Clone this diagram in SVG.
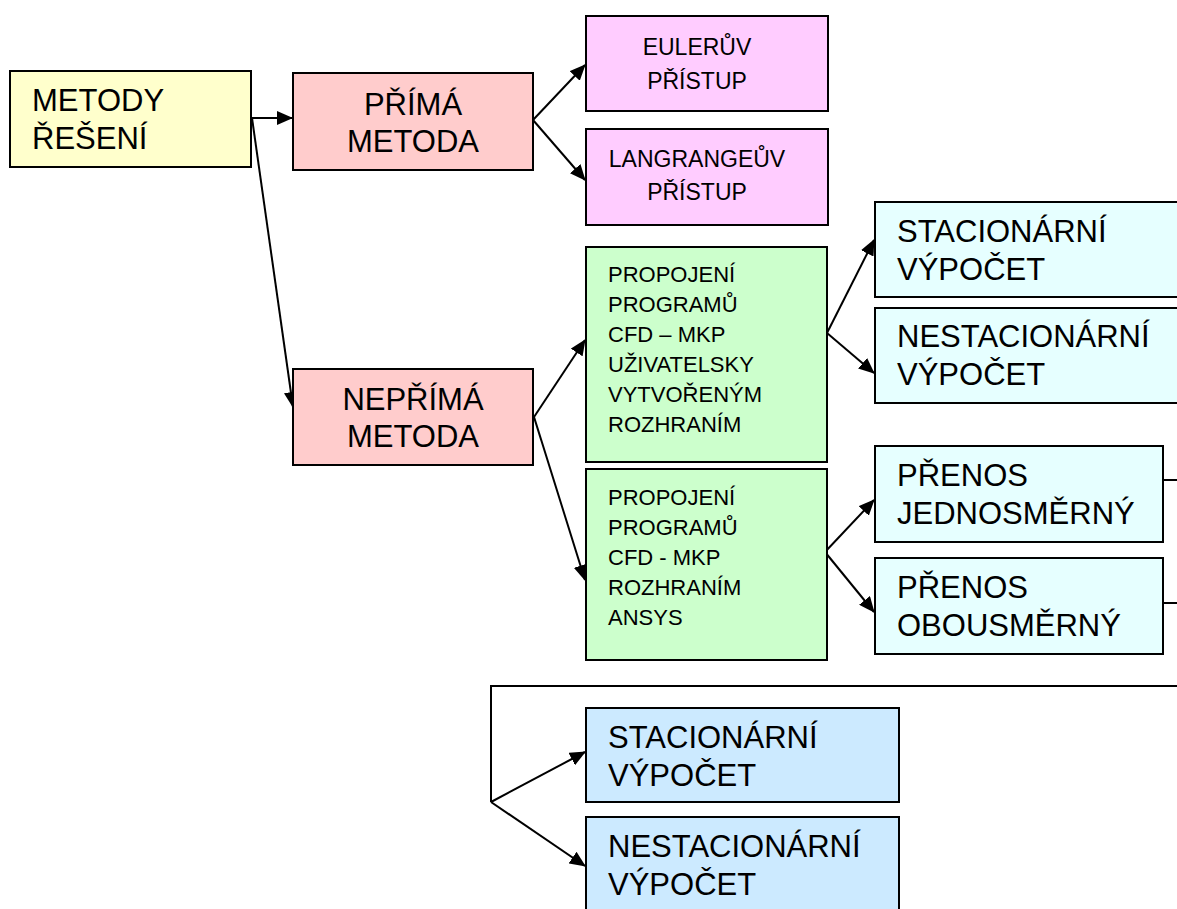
<svg xmlns="http://www.w3.org/2000/svg" width="1177" height="909" viewBox="0 0 1177 909">
<style>
.box{stroke:#000;stroke-width:2}
.t{font-family:"Liberation Sans",Arial,sans-serif;fill:#000}
.big{font-size:31px}
.mid{font-size:23px}
.sm{font-size:22px}
.c{text-anchor:middle}
.con{stroke:#000;stroke-width:2;fill:none}
</style>
<defs>
<marker id="ah" markerUnits="userSpaceOnUse" markerWidth="16" markerHeight="14" refX="15" refY="7" orient="auto">
<path d="M0,0 L16,7 L0,14 z" fill="#000"/>
</marker>
</defs>
<rect width="1177" height="909" fill="#fff"/>
<g id="connectors">
<line class="con" x1="251" y1="118" x2="292" y2="118" marker-end="url(#ah)"/>
<line class="con" x1="252" y1="118" x2="293" y2="407" marker-end="url(#ah)"/>
<line class="con" x1="533" y1="120" x2="585" y2="65" marker-end="url(#ah)"/>
<line class="con" x1="533" y1="120" x2="585" y2="180" marker-end="url(#ah)"/>
<line class="con" x1="534" y1="417" x2="585" y2="340" marker-end="url(#ah)"/>
<line class="con" x1="534" y1="417" x2="585" y2="580" marker-end="url(#ah)"/>
<line class="con" x1="827" y1="333" x2="874" y2="240" marker-end="url(#ah)"/>
<line class="con" x1="827" y1="333" x2="874" y2="373" marker-end="url(#ah)"/>
<line class="con" x1="825" y1="552" x2="874" y2="500" marker-end="url(#ah)"/>
<line class="con" x1="825" y1="552" x2="874" y2="612" marker-end="url(#ah)"/>
<line class="con" x1="1163" y1="480" x2="1177" y2="480"/>
<line class="con" x1="1163" y1="603" x2="1177" y2="603"/>
<polyline class="con" points="1177,686 491,686 491,802"/>
<line class="con" x1="491" y1="802" x2="585" y2="752" marker-end="url(#ah)"/>
<line class="con" x1="491" y1="802" x2="585" y2="866" marker-end="url(#ah)"/>
</g>
<g id="n-metody">
<rect class="box" x="10" y="71" width="241" height="96" fill="#ffffcc"/>
<text class="t big" x="32" y="111">METODY</text>
<text class="t big" x="32" y="149">&#x158;E&#x160;EN&#xCD;</text>
</g>
<g id="n-prima">
<rect class="box" x="293" y="73" width="240" height="97" fill="#ffcccc"/>
<text class="t big c" x="413" y="115">P&#x158;&#xCD;M&#xC1;</text>
<text class="t big c" x="413" y="152">METODA</text>
</g>
<g id="n-euler">
<rect class="box" x="586" y="16" width="242" height="95" fill="#ffccff"/>
<text class="t mid c" x="697" y="55">EULER&#x16E;V</text>
<text class="t mid c" x="697" y="89">P&#x158;&#xCD;STUP</text>
</g>
<g id="n-langrange">
<rect class="box" x="586" y="129" width="242" height="96" fill="#ffccff"/>
<text class="t mid c" x="697" y="167">LANGRANGE&#x16E;V</text>
<text class="t mid c" x="697" y="200">P&#x158;&#xCD;STUP</text>
</g>
<g id="n-neprima">
<rect class="box" x="293" y="369" width="240" height="96" fill="#ffcccc"/>
<text class="t big c" x="413" y="410">NEP&#x158;&#xCD;M&#xC1;</text>
<text class="t big c" x="413" y="447">METODA</text>
</g>
<g id="n-propojeni-uziv">
<rect class="box" x="586" y="247" width="241" height="215" fill="#ccffcc"/>
<text class="t sm" x="608" y="282">PROPOJEN&#xCD;</text>
<text class="t sm" x="608" y="312">PROGRAM&#x16E;</text>
<text class="t sm" x="608" y="342">CFD &#x2013; MKP</text>
<text class="t sm" x="608" y="372">U&#x17D;IVATELSKY</text>
<text class="t sm" x="608" y="402">VYTVO&#x158;EN&#xDD;M</text>
<text class="t sm" x="608" y="432">ROZHRAN&#xCD;M</text>
</g>
<g id="n-propojeni-ansys">
<rect class="box" x="586" y="469" width="241" height="191" fill="#ccffcc"/>
<text class="t sm" x="608" y="505">PROPOJEN&#xCD;</text>
<text class="t sm" x="608" y="535">PROGRAM&#x16E;</text>
<text class="t sm" x="608" y="565">CFD - MKP</text>
<text class="t sm" x="608" y="595">ROZHRAN&#xCD;M</text>
<text class="t sm" x="608" y="625">ANSYS</text>
</g>
<g id="n-stac1">
<rect class="box" x="875" y="202" width="320" height="95" fill="#e6ffff"/>
<text class="t big" x="897" y="242">STACION&#xC1;RN&#xCD;</text>
<text class="t big" x="897" y="280">V&#xDD;PO&#x10C;ET</text>
</g>
<g id="n-nestac1">
<rect class="box" x="875" y="308" width="320" height="95" fill="#e6ffff"/>
<text class="t big" x="897" y="347">NESTACION&#xC1;RN&#xCD;</text>
<text class="t big" x="897" y="385">V&#xDD;PO&#x10C;ET</text>
</g>
<g id="n-jednosmerny">
<rect class="box" x="875" y="446" width="288" height="96" fill="#e6ffff"/>
<text class="t big" x="897" y="486">P&#x158;ENOS</text>
<text class="t big" x="897" y="524">JEDNOSM&#x11A;RN&#xDD;</text>
</g>
<g id="n-obousmerny">
<rect class="box" x="875" y="558" width="288" height="96" fill="#e6ffff"/>
<text class="t big" x="897" y="598">P&#x158;ENOS</text>
<text class="t big" x="897" y="636">OBOUSM&#x11A;RN&#xDD;</text>
</g>
<g id="n-stac2">
<rect class="box" x="586" y="708" width="313" height="94" fill="#cceaff"/>
<text class="t big" x="608" y="748">STACION&#xC1;RN&#xCD;</text>
<text class="t big" x="608" y="786">V&#xDD;PO&#x10C;ET</text>
</g>
<g id="n-nestac2">
<rect class="box" x="586" y="817" width="313" height="100" fill="#cceaff"/>
<text class="t big" x="608" y="857">NESTACION&#xC1;RN&#xCD;</text>
<text class="t big" x="608" y="895">V&#xDD;PO&#x10C;ET</text>
</g>
</svg>
